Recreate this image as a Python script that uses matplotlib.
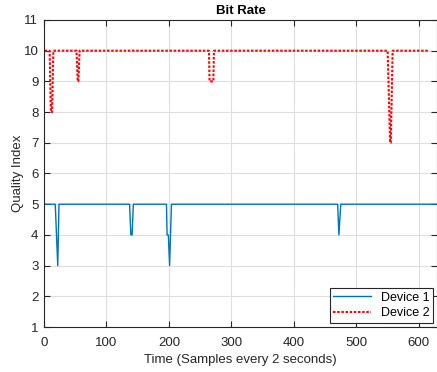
import matplotlib.pyplot as plt

# ---------- data ----------
# breakpoints of each series: sample number and quality index
dev1_x = [1, 18, 22, 24, 137, 139, 141, 143, 196, 197, 199, 201, 204, 470, 472, 475, 630]
dev1_y = [5, 5, 3, 5, 5, 4, 4, 5, 5, 4, 4, 3, 5, 5, 4, 5, 5]

dev2_x = [1, 9, 11, 13, 15, 52, 54, 55, 57, 264, 265, 271, 272, 550, 554, 555, 558, 615]
dev2_y = [10, 10, 8, 8, 10, 10, 9, 9, 10, 10, 9, 9, 10, 10, 7, 7, 10, 10]

x_ticks = [0, 100, 200, 300, 400, 500, 600]
y_ticks = list(range(1, 12))

# ---------- plot ----------
plt.rcParams['font.family'] = ['Liberation Sans', 'DejaVu Sans']
dark = (0.15, 0.15, 0.15)

fig = plt.figure(figsize=(4.37, 3.72), dpi=100)
ax = fig.add_axes([44 / 437, 45 / 372, 393 / 437, 307 / 372])

ax.plot(dev1_x, dev1_y, color='#0072BD', lw=1.0, label='Device 1')
ax.plot(dev2_x, dev2_y, color='red', lw=1.5, ls=(0, (1.2, 0.8)), label='Device 2')

ax.set_xlim(0, 629)
ax.set_ylim(1, 11)
ax.set_xticks(x_ticks)
ax.set_yticks(y_ticks)
ax.grid(True, color=(0.87, 0.87, 0.87), lw=0.8)
ax.set_axisbelow(True)
ax.tick_params(direction='in', length=4, width=0.8, colors=dark, labelsize=9.5,
               top=True, right=True, pad=4)
ax.tick_params(axis='x', pad=7)
for s in ax.spines.values():
    s.set_color(dark)
    s.set_linewidth(0.8)

ax.set_title('Bit Rate', fontsize=9.5, fontweight='bold', pad=4)
ax.set_xlabel('Time (Samples every 2 seconds)', fontsize=9.5, color=dark, labelpad=4)
ax.set_ylabel('Quality Index', fontsize=9.5, color=dark, labelpad=0)

leg = ax.legend(loc='lower right', fontsize=9, fancybox=False, framealpha=1,
                edgecolor=dark, borderaxespad=0.3, handlelength=3.0, borderpad=0.3,
                labelspacing=0.3)
leg.get_frame().set_linewidth(0.8)

fig.savefig('out.png', dpi=100)
